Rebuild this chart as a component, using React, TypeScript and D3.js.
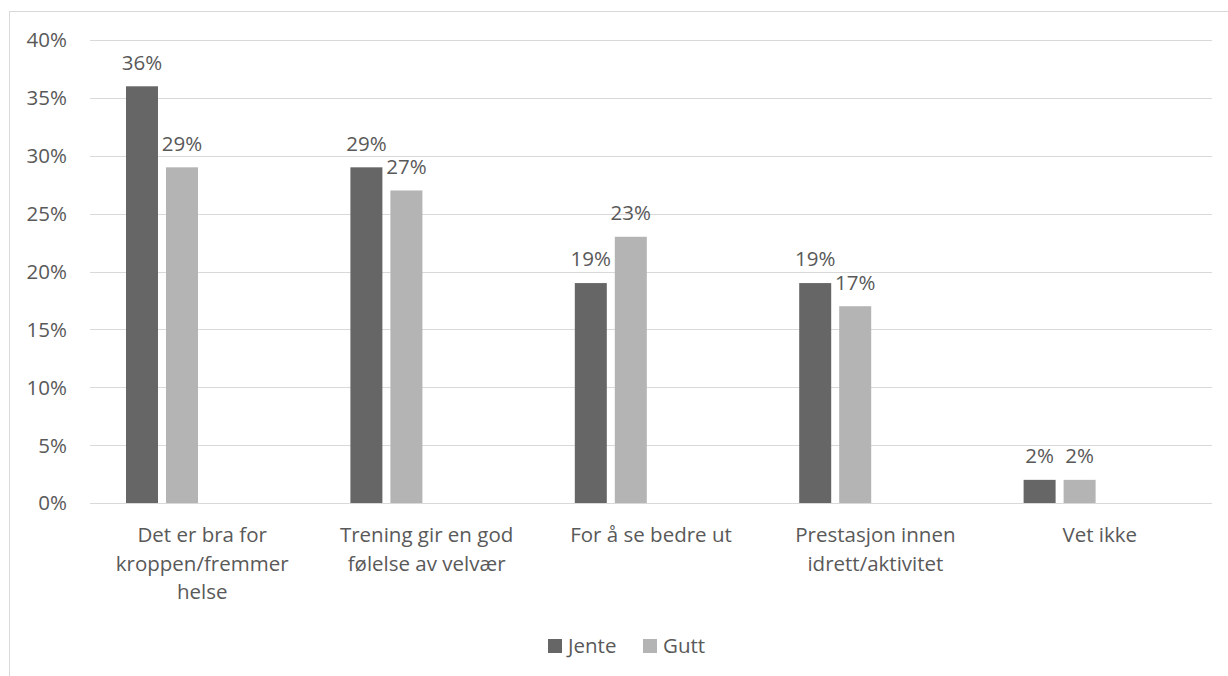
import React from "react";
import * as d3 from "d3";

const categories = [
  "Det er bra for kroppen/fremmer helse",
  "Trening gir en god følelse av velvær",
  "For å se bedre ut",
  "Prestasjon innen idrett/aktivitet",
  "Vet ikke",
];
const categoryLines = [
  ["Det er bra for", "kroppen/fremmer", "helse"],
  ["Trening gir en god", "følelse av velvær"],
  ["For å se bedre ut"],
  ["Prestasjon innen", "idrett/aktivitet"],
  ["Vet ikke"],
];
const seriesNames = ["Jente", "Gutt"];
const jente = [0.36, 0.29, 0.19, 0.19, 0.02];
const gutt = [0.29, 0.27, 0.23, 0.17, 0.02];
const yTicks = [0, 0.05, 0.1, 0.15, 0.2, 0.25, 0.3, 0.35, 0.4];
const colors = ["#666666", "#b4b4b4"];

const W = 1228;
const H = 676;
const FONT = "'Open Sans', sans-serif";
const TEXT = "#595959";
const FS = 20.5;

export default function App() {
  const values = [jente, gutt];
  const x = d3.scaleBand<string>().domain(categories).range([90, 1212]);
  const inner = d3.scaleBand<string>().domain(seriesNames).range([0, 72]).paddingInner(0.2);
  const groupOffset = 36;
  const y = d3.scaleLinear().domain([0, 0.4]).range([503, 40]);
  const fmt = d3.format(".0%");

  return (
    <svg
      width={W}
      height={H}
      style={{ position: "absolute", left: 0, top: 0, background: "#fff" }}
      fontFamily={FONT}
    >
      <rect x={9.5} y={11.5} width={1300} height={800} fill="#fff" stroke="#d9d9d9" strokeWidth={1} />
      {yTicks.map((t) => (
        <g key={t}>
          <line x1={90} x2={1212} y1={Math.round(y(t)) + 0.5} y2={Math.round(y(t)) + 0.5} stroke="#d9d9d9" strokeWidth={1.2} />
          <text x={67} y={y(t)} dy="0.36em" textAnchor="end" fontSize={FS} fill={TEXT}>
            {fmt(t)}
          </text>
        </g>
      ))}
      {categories.map((c, ci) => (
        <g key={c}>
          {seriesNames.map((s, si) => {
            const v = values[si][ci];
            const bx = (x(c) as number) + groupOffset + (inner(s) as number);
            const bw = inner.bandwidth();
            return (
              <g key={s}>
                <rect x={bx} y={y(v)} width={bw} height={y(0) - y(v)} fill={colors[si]} />
                <text x={bx + bw / 2} y={y(v) - 24} dy="0.36em" textAnchor="middle" fontSize={FS} fill={TEXT}>
                  {fmt(v)}
                </text>
              </g>
            );
          })}
          {categoryLines[ci].map((ln, li) => (
            <text
              key={li}
              x={(x(c) as number) + x.bandwidth() / 2}
              y={535 + li * 28.5}
              dy="0.36em"
              textAnchor="middle"
              fontSize={FS}
              fill={TEXT}
            >
              {ln}
            </text>
          ))}
        </g>
      ))}
      {seriesNames.map((s, si) => {
        const lx = si === 0 ? 548 : 643;
        return (
          <g key={s}>
            <rect x={lx} y={639} width={14} height={14} fill={colors[si]} />
            <text x={lx + 20} y={646} dy="0.36em" fontSize={FS} fill={TEXT}>
              {s}
            </text>
          </g>
        );
      })}
    </svg>
  );
}
